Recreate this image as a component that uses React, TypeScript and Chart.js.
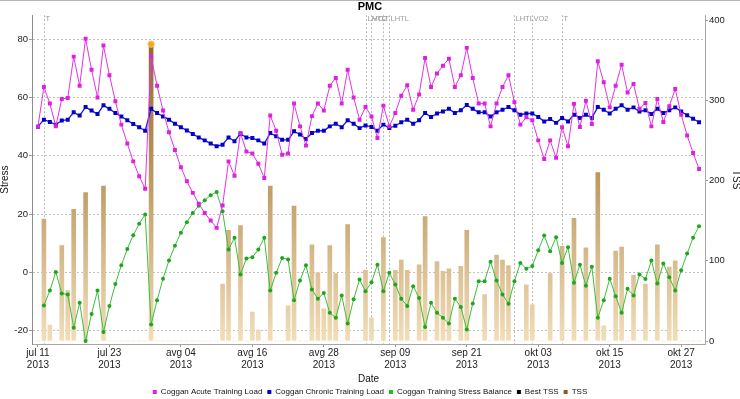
import React, { useEffect, useRef } from 'react';
import { Chart, registerables } from 'chart.js';

Chart.register(...registerables);

// Daily values, day 0 = 11 Jul 2013
const acl = [50.0, 63.6, 57.9, 50.1, 59.5, 59.8, 74.0, 64.0, 80.1, 69.5,
  60.0, 77.8, 67.6, 58.7, 50.7, 44.2, 38.1, 33.0, 28.7, 74.0,
  64.0, 55.5, 48.1, 42.0, 36.1, 31.3, 27.3, 23.6, 20.4, 17.8,
  15.3, 23.0, 38.1, 33.2, 47.8, 41.5, 40.8, 37.3, 32.4, 53.8,
  48.6, 40.4, 40.8, 57.9, 50.1, 43.5, 53.6, 57.9, 55.5, 64.0,
  66.7, 57.9, 69.5, 60.0, 52.4, 56.7, 53.5, 46.1, 57.2, 50.1,
  54.7, 60.6, 64.2, 55.8, 61.0, 73.5, 63.6, 68.2, 70.9, 73.3,
  63.6, 67.6, 77.0, 66.7, 57.9, 57.9, 50.1, 57.9, 63.6, 67.6,
  58.4, 50.7, 53.2, 52.2, 45.3, 38.9, 45.3, 39.3, 49.8, 43.3,
  57.8, 49.9, 58.9, 50.9, 72.4, 65.2, 56.6, 64.0, 71.2, 61.7,
  64.6, 56.1, 58.1, 50.1, 59.5, 51.6, 57.0, 62.9, 54.1, 47.0, 41.0, 35.5];

const ctl = [50.0, 52.4, 51.6, 50.7, 52.1, 52.4, 54.9, 53.8, 56.7, 55.5,
  54.3, 57.3, 56.1, 54.7, 53.5, 52.2, 50.9, 49.8, 48.6, 56.1,
  54.7, 53.5, 52.4, 51.0, 49.8, 48.7, 47.5, 46.3, 45.3, 44.2,
  43.3, 43.8, 46.3, 45.0, 47.5, 46.3, 46.1, 45.3, 44.2, 47.8,
  46.7, 45.5, 45.5, 48.4, 47.3, 45.8, 47.8, 48.6, 48.6, 50.1,
  51.0, 49.8, 52.2, 51.0, 49.5, 50.4, 49.9, 48.6, 50.7, 49.5,
  50.3, 51.5, 52.4, 51.0, 52.2, 54.7, 53.3, 54.5, 55.2, 56.1,
  54.7, 55.6, 57.4, 56.1, 54.9, 54.9, 53.5, 54.9, 55.8, 56.7,
  55.6, 54.1, 54.5, 54.5, 53.3, 51.8, 52.6, 51.3, 53.0, 51.8,
  54.1, 53.0, 54.1, 53.0, 56.7, 55.8, 54.5, 56.1, 57.3, 55.8,
  56.6, 55.2, 55.6, 54.3, 56.1, 54.7, 55.6, 56.6, 55.2, 53.9, 52.7, 51.5];

const stb = [null, -11.3, -6.2, 0.2, -7.2, -7.5, -18.9, -10.4, -23.5, -14.2, -6.2,
  -20.4, -11.5, -3.9, 2.5, 8.1, 12.8, 16.7, 19.9, -17.8, -9.5,
  -2.1, 4.1, 9.2, 13.6, 17.2, 20.4, 22.9, 24.8, 26.5, 27.6,
  21.0, 7.9, 11.9, -0.7, 4.8, 5.2, 7.9, 11.9, -6.2, -0.1,
  5.0, 4.5, -9.5, -2.7, 2.5, -5.8, -9.0, -7.0, -13.8, -15.5,
  -7.9, -17.5, -9.2, -2.4, -6.4, -3.3, 2.7, -6.4, -0.1, -4.1,
  -9.0, -11.5, -4.7, -8.7, -18.7, -10.4, -13.8, -15.5, -17.5, -9.0,
  -11.8, -19.5, -10.6, -3.0, -3.0, 3.7, -2.7, -7.5, -10.7, -3.0,
  3.3, 1.3, 2.2, 7.6, 12.7, 7.3, 12.1, 3.3, 8.7, -3.5,
  2.7, -4.5, 2.0, -15.5, -9.5, -2.1, -8.1, -13.8, -5.6, -7.9,
  -0.7, -2.2, 4.1, -3.8, 3.1, -1.6, -6.2, 0.8, 6.5, 11.9, 15.9];

const tss = [0, 152, 20, 0, 119, 63, 164, 0, 185, 0,
  0, 193, 0, 0, 0, 0, 0, 0, 0, 370,
  0, 0, 0, 0, 0, 0, 0, 0, 0, 0,
  0, 71, 138, 0, 144, 0, 36, 14, 0, 193,
  0, 0, 44, 168, 0, 0, 120, 85, 40, 119,
  84, 0, 145, 0, 0, 88, 29, 0, 129, 0,
  88, 101, 88, 0, 95, 155, 0, 99, 87, 90,
  0, 93, 138, 0, 0, 58, 0, 107, 101, 94,
  0, 0, 70, 45, 0, 0, 84, 0, 118, 0,
  153, 0, 116, 0, 210, 19, 0, 112, 117, 0,
  82, 0, 71, 0, 120, 0, 92, 100, 0, 0, 0, 0];

const bestTss: number[] = [];
const highlightDays = [19];
const highlightTss = [370];

const tickDays = [0, 12, 24, 36, 48, 60, 72, 84, 96, 108];
const tickLabels = ['jul 11', 'jul 23', 'avg 04', 'avg 16', 'avg 28', 'sep 09', 'sep 21', 'okt 03', 'okt 15', 'okt 27'];
const tickYears = ['2013', '2013', '2013', '2013', '2013', '2013', '2013', '2013', '2013', '2013'];
const stressTicks = [-20, 0, 20, 40, 60, 80];
const tssTicks = [0, 100, 200, 300, 400];

const eventDays = [1, 55, 56, 58, 59, 80, 83, 88];
const eventLabels = ['T', 'LHTL', 'VO2', 'T', 'LHTL', 'LHTL', 'VO2', 'T'];

const legendColors = ['#e020e0', '#0000d0', '#20c020', '#000000', '#8b5e1e'];

const FONT = "'Liberation Sans', Arial, sans-serif";

const bgPlugin = {
  id: 'bg',
  beforeDraw(chart: any) {
    const { ctx, width, height } = chart;
    ctx.save();
    ctx.fillStyle = '#ffffff';
    ctx.fillRect(0, 0, width, height);
    ctx.strokeStyle = '#b4b4b4';
    ctx.lineWidth = 1;
    ctx.beginPath();
    ctx.moveTo(0, 0.5);
    ctx.lineTo(width, 0.5);
    ctx.stroke();
    ctx.restore();
  },
};

const eventPlugin = {
  id: 'events',
  beforeDatasetsDraw(chart: any) {
    const { ctx, chartArea, scales } = chart;
    ctx.save();
    ctx.strokeStyle = '#b8b8b8';
    ctx.lineWidth = 1;
    ctx.setLineDash([2, 2]);
    eventDays.forEach((d) => {
      const x = Math.round(scales.x.getPixelForValue(d)) + 0.5;
      ctx.beginPath();
      ctx.moveTo(x, chartArea.top);
      ctx.lineTo(x, chartArea.bottom);
      ctx.stroke();
    });
    ctx.restore();
  },
  afterDraw(chart: any) {
    const { ctx, chartArea, scales } = chart;
    ctx.save();
    ctx.fillStyle = '#9a9a9a';
    ctx.font = `7.5px ${FONT}`;
    ctx.textBaseline = 'middle';
    ctx.textAlign = 'left';
    eventDays.forEach((d, i) => {
      const x = Math.round(scales.x.getPixelForValue(d)) + 1.5;
      ctx.fillText(eventLabels[i], x, chartArea.top + 3.5);
    });
    ctx.restore();
  },
};

function barGradient(context: any) {
  const chart = context.chart;
  const area = chart.chartArea;
  if (!area) return '#c8a878';
  const g = chart.ctx.createLinearGradient(0, area.top, 0, area.bottom);
  g.addColorStop(0, '#84602c');
  g.addColorStop(0.5, '#bd9a62');
  g.addColorStop(1, '#f3dfbb');
  return g;
}

export default function App() {
  const ref = useRef<HTMLCanvasElement>(null);

  useEffect(() => {
    const canvas = ref.current;
    if (!canvas) return;
    Chart.defaults.font.family = FONT;

    const chart = new Chart(canvas, {
      type: 'line',
      data: {
        datasets: [
          {
            type: 'line',
            label: 'Coggan Acute Training Load',
            data: acl.map((y, i) => ({ x: i, y })),
            yAxisID: 'y',
            borderColor: '#e235e2',
            backgroundColor: '#e020e0',
            borderWidth: 1,
            pointStyle: 'rect',
            pointRadius: 2.8,
            pointBorderWidth: 0,
            pointBackgroundColor: '#e020e0',
            tension: 0,
            order: 1,
          },
          {
            type: 'line',
            label: 'Coggan Chronic Training Load',
            data: ctl.map((y, i) => ({ x: i, y })),
            yAxisID: 'y',
            borderColor: '#1a1ae0',
            backgroundColor: '#0000d0',
            borderWidth: 1.3,
            pointStyle: 'rect',
            pointRadius: 2.8,
            pointBorderWidth: 0,
            pointBackgroundColor: '#0000c8',
            tension: 0,
            order: 1,
          },
          {
            type: 'line',
            label: 'Coggan Training Stress Balance',
            data: stb.map((y, i) => ({ x: i, y })),
            yAxisID: 'y',
            borderColor: '#3cc03c',
            backgroundColor: '#20b020',
            borderWidth: 1,
            pointStyle: 'circle',
            pointRadius: 2,
            pointBorderWidth: 0,
            pointBackgroundColor: '#1fa61f',
            tension: 0,
            spanGaps: false,
            order: 1,
          },
          {
            type: 'line',
            label: 'Best TSS',
            data: bestTss.map((y, i) => ({ x: i, y })),
            yAxisID: 'y2',
            borderColor: '#000000',
            backgroundColor: '#000000',
            order: 2,
          },
          {
            type: 'bar',
            label: 'TSS',
            data: tss.map((y, i) => ({ x: i, y })),
            yAxisID: 'y2',
            backgroundColor: barGradient,
            borderWidth: 0,
            barThickness: 4,
            order: 3,
          },
          {
            type: 'line',
            label: 'highlight',
            data: highlightDays.map((x, i) => ({ x, y: highlightTss[i] })),
            yAxisID: 'y2',
            showLine: false,
            pointStyle: 'circle',
            pointRadius: 3.2,
            pointBackgroundColor: '#f5a524',
            pointBorderColor: '#ffc46a',
            pointBorderWidth: 1,
            order: 0,
          },
        ] as any,
      },
      options: {
        responsive: false,
        maintainAspectRatio: false,
        animation: false,
        devicePixelRatio: 1,
        events: [],
        layout: { padding: 0 },
        plugins: {
          title: {
            display: true,
            text: 'PMC',
            color: '#000',
            font: { size: 11, weight: 'bold', lineHeight: 1.2 },
            padding: { top: 0, bottom: 2 },
          },
          legend: {
            position: 'bottom',
            maxHeight: 16,
            labels: {
              color: '#111',
              font: { size: 8 },
              boxWidth: 4,
              boxHeight: 4,
              padding: 5,
              generateLabels: (ch: any) => {
                const items = (Chart.defaults.plugins.legend.labels as any).generateLabels(ch);
                return items
                  .filter((it: any) => it.datasetIndex < 5)
                  .map((it: any) => ({
                    ...it,
                    fillStyle: legendColors[it.datasetIndex],
                    strokeStyle: legendColors[it.datasetIndex],
                    lineWidth: 0,
                  }));
              },
            },
          },
          tooltip: { enabled: false },
        },
        scales: {
          x: {
            type: 'linear',
            min: -1,
            max: 112,
            offset: false,
            afterBuildTicks: (s: any) => { s.ticks = tickDays.map((v) => ({ value: v })); },
            afterFit: (s: any) => { s.height = 39; },
            ticks: {
              autoSkip: false,
              maxRotation: 0,
              minRotation: 0,
              padding: 0,
              color: '#222',
              font: { size: 10, lineHeight: '12px' },
              callback: (v: any) => {
                const i = tickDays.indexOf(Number(v));
                return i >= 0 ? [tickLabels[i], tickYears[i]] : '';
              },
            },
            grid: { drawOnChartArea: false, drawTicks: true, tickLength: 3, tickColor: '#999', offset: false },
            border: { color: '#a8a8a8' },
            title: { display: true, text: 'Date', color: '#111', font: { size: 10, lineHeight: '8px' }, padding: 0 },
          },
          y: {
            type: 'linear',
            position: 'left',
            min: -24.5,
            max: 88.2,
            afterBuildTicks: (s: any) => { s.ticks = stressTicks.map((v) => ({ value: v })); },
            afterFit: (s: any) => { s.width = 32; },
            ticks: { padding: 1, color: '#222', font: { size: 9.5 } },
            grid: { color: '#c2c2c2', lineWidth: 1, tickLength: 3, tickColor: '#999', tickBorderDash: [] },
            border: { color: '#8c8c8c', dash: [2, 2] },
            title: { display: true, text: 'Stress', color: '#111', font: { size: 10, lineHeight: '10px' }, padding: 0 },
          },
          y2: {
            type: 'linear',
            position: 'right',
            min: -3.7,
            max: 406,
            afterBuildTicks: (s: any) => { s.ticks = tssTicks.map((v) => ({ value: v })); },
            afterFit: (s: any) => { s.width = 35; },
            ticks: { padding: 1, color: '#222', font: { size: 9.5 } },
            grid: { drawOnChartArea: false, tickLength: 3, tickColor: '#999' },
            border: { color: '#a8a8a8' },
            title: { display: true, text: 'TSS', color: '#111', font: { size: 10, lineHeight: '9px' }, padding: 0 },
          },
        },
      } as any,
      plugins: [bgPlugin, eventPlugin],
    });

    return () => chart.destroy();
  }, []);

  return (
    <div style={{ position: 'absolute', left: 0, top: 0, width: 740, height: 399, background: '#fff' }}>
      <canvas ref={ref} width={740} height={399} style={{ display: 'block', width: 740, height: 399 }} />
    </div>
  );
}
